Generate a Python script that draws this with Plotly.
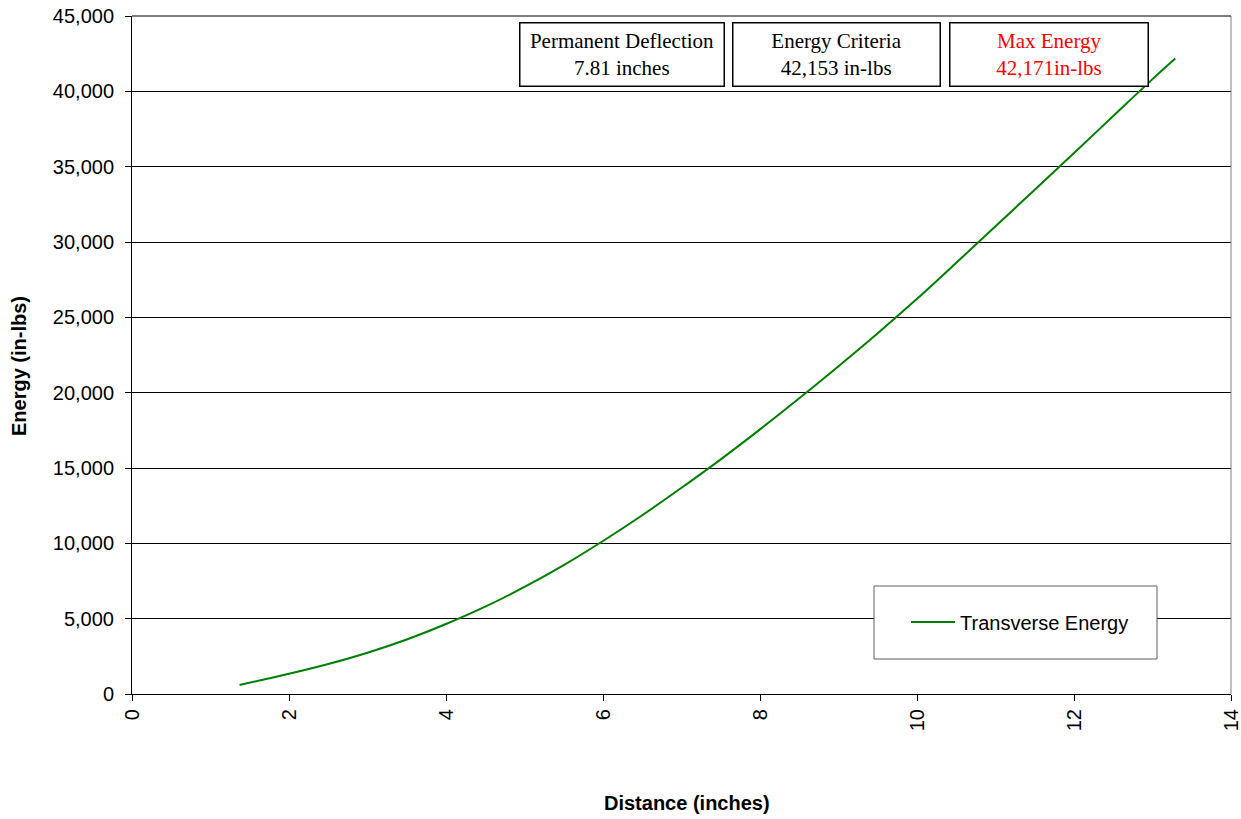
import plotly.graph_objects as go

distance = [1.37, 2.0, 2.5, 3.0, 3.5, 4.0, 4.5, 5.0, 5.5, 6.0, 6.5, 7.0, 7.5, 8.0,
            8.5, 9.0, 9.5, 10.0, 10.5, 11.0, 11.5, 12.0, 12.5, 13.0, 13.29]
energy = [600, 1340, 1990, 2740, 3620, 4645, 5795, 7105, 8555, 10155, 11865, 13685,
          15575, 17565, 19630, 21760, 23950, 26230, 28620, 31045, 33470, 35910,
          38360, 40810, 42171]

series_name = "Transverse Energy"
x_ticks = [0, 2, 4, 6, 8, 10, 12, 14]
y_ticks = [0, 5000, 10000, 15000, 20000, 25000, 30000, 35000, 40000, 45000]
y_tick_labels = ["0", "5,000", "10,000", "15,000", "20,000", "25,000", "30,000",
                 "35,000", "40,000", "45,000"]
info_boxes = [
    ("Permanent Deflection<br>7.81 inches", "black"),
    ("Energy Criteria<br>42,153 in-lbs", "black"),
    ("Max Energy<br>42,171in-lbs", "red"),
]

W, H = 1241, 819
PX0, PX1, PY0, PY1 = 132, 1231, 16, 694  # plot area in page pixels
L, T, R, B = PX0, PY0, W - PX1, H - PY1

def px(xp):
    return (xp - PX0) / (PX1 - PX0)

def py(yp):
    return (PY1 - yp) / (PY1 - PY0)

fig = go.Figure()
fig.add_trace(go.Scatter(x=distance, y=energy, mode="lines", name=series_name,
                         line=dict(color="#008000", width=2), line_shape="spline"))

fig.update_layout(
    width=W, height=H,
    margin=dict(l=L, r=R, t=T, b=B, pad=0, autoexpand=False),
    paper_bgcolor="white", plot_bgcolor="white",
    font=dict(family="Liberation Sans, Arial", size=20, color="black"),
    showlegend=True,
    legend=dict(x=px(906), y=py(622), xanchor="left", yanchor="middle",
                bgcolor="rgba(0,0,0,0)", borderwidth=0, itemwidth=44,
                font=dict(size=20, family="Liberation Sans, Arial")),
)
fig.update_xaxes(range=[0, 14], tickvals=x_ticks, ticktext=[str(v) for v in x_ticks],
                 tickangle=-90, showgrid=False, zeroline=False, automargin=False,
                 ticklabeloverflow="allow",
                 showline=True, linecolor="black", linewidth=1,
                 ticks="outside", ticklen=6, tickcolor="black", ticklabelstandoff=0)
fig.update_yaxes(range=[0, 45000], tickvals=y_ticks, ticktext=y_tick_labels,
                 showgrid=True, gridcolor="black", gridwidth=1, zeroline=False,
                 automargin=False, ticklabeloverflow="allow",
                 showline=True, linecolor="black", linewidth=1,
                 ticks="outside", ticklen=6, tickcolor="black", ticklabelstandoff=7)

shapes = [
    dict(type="line", xref="paper", yref="paper", x0=1, x1=1, y0=0, y1=1,
         line=dict(color="#808080", width=1)),
    dict(type="line", xref="paper", yref="paper", x0=0, x1=1, y0=1, y1=1,
         line=dict(color="black", width=1)),
    dict(type="rect", xref="paper", yref="paper", x0=px(874), x1=px(1157),
         y0=py(659), y1=py(586), fillcolor="white",
         line=dict(color="#606060", width=1), layer="above"),
]
fig.update_layout(shapes=shapes)

box_pos = [(519, 724), (732, 940), (949, 1148)]
for (text, color), (x0, x1) in zip(info_boxes, box_pos):
    fig.add_annotation(xref="paper", yref="paper", x=px((x0 + x1) / 2), y=py(54.5),
                       xanchor="center", yanchor="middle",
                       text=text, showarrow=False, align="center",
                       width=x1 - x0 - 4, height=60, borderpad=1,
                       bordercolor="black", borderwidth=1.5, bgcolor="white",
                       font=dict(family="Liberation Serif, Times New Roman",
                                 size=21, color=color))

fig.add_annotation(xref="paper", yref="paper", x=px(687), y=py(803),
                   xanchor="center", yanchor="middle",
                   text="<b>Distance (inches)</b>", showarrow=False,
                   font=dict(size=20, family="Liberation Sans, Arial"))
fig.add_annotation(xref="paper", yref="paper", x=px(19), y=py(366),
                   xanchor="center", yanchor="middle",
                   text="<b>Energy (in-lbs)</b>", showarrow=False, textangle=-90,
                   font=dict(size=20, family="Liberation Sans, Arial"))

fig.write_html("out.html",
               config={"displayModeBar": False},
               post_script="document.body.style.margin='0px';"
                           "document.body.style.overflow='hidden';")
